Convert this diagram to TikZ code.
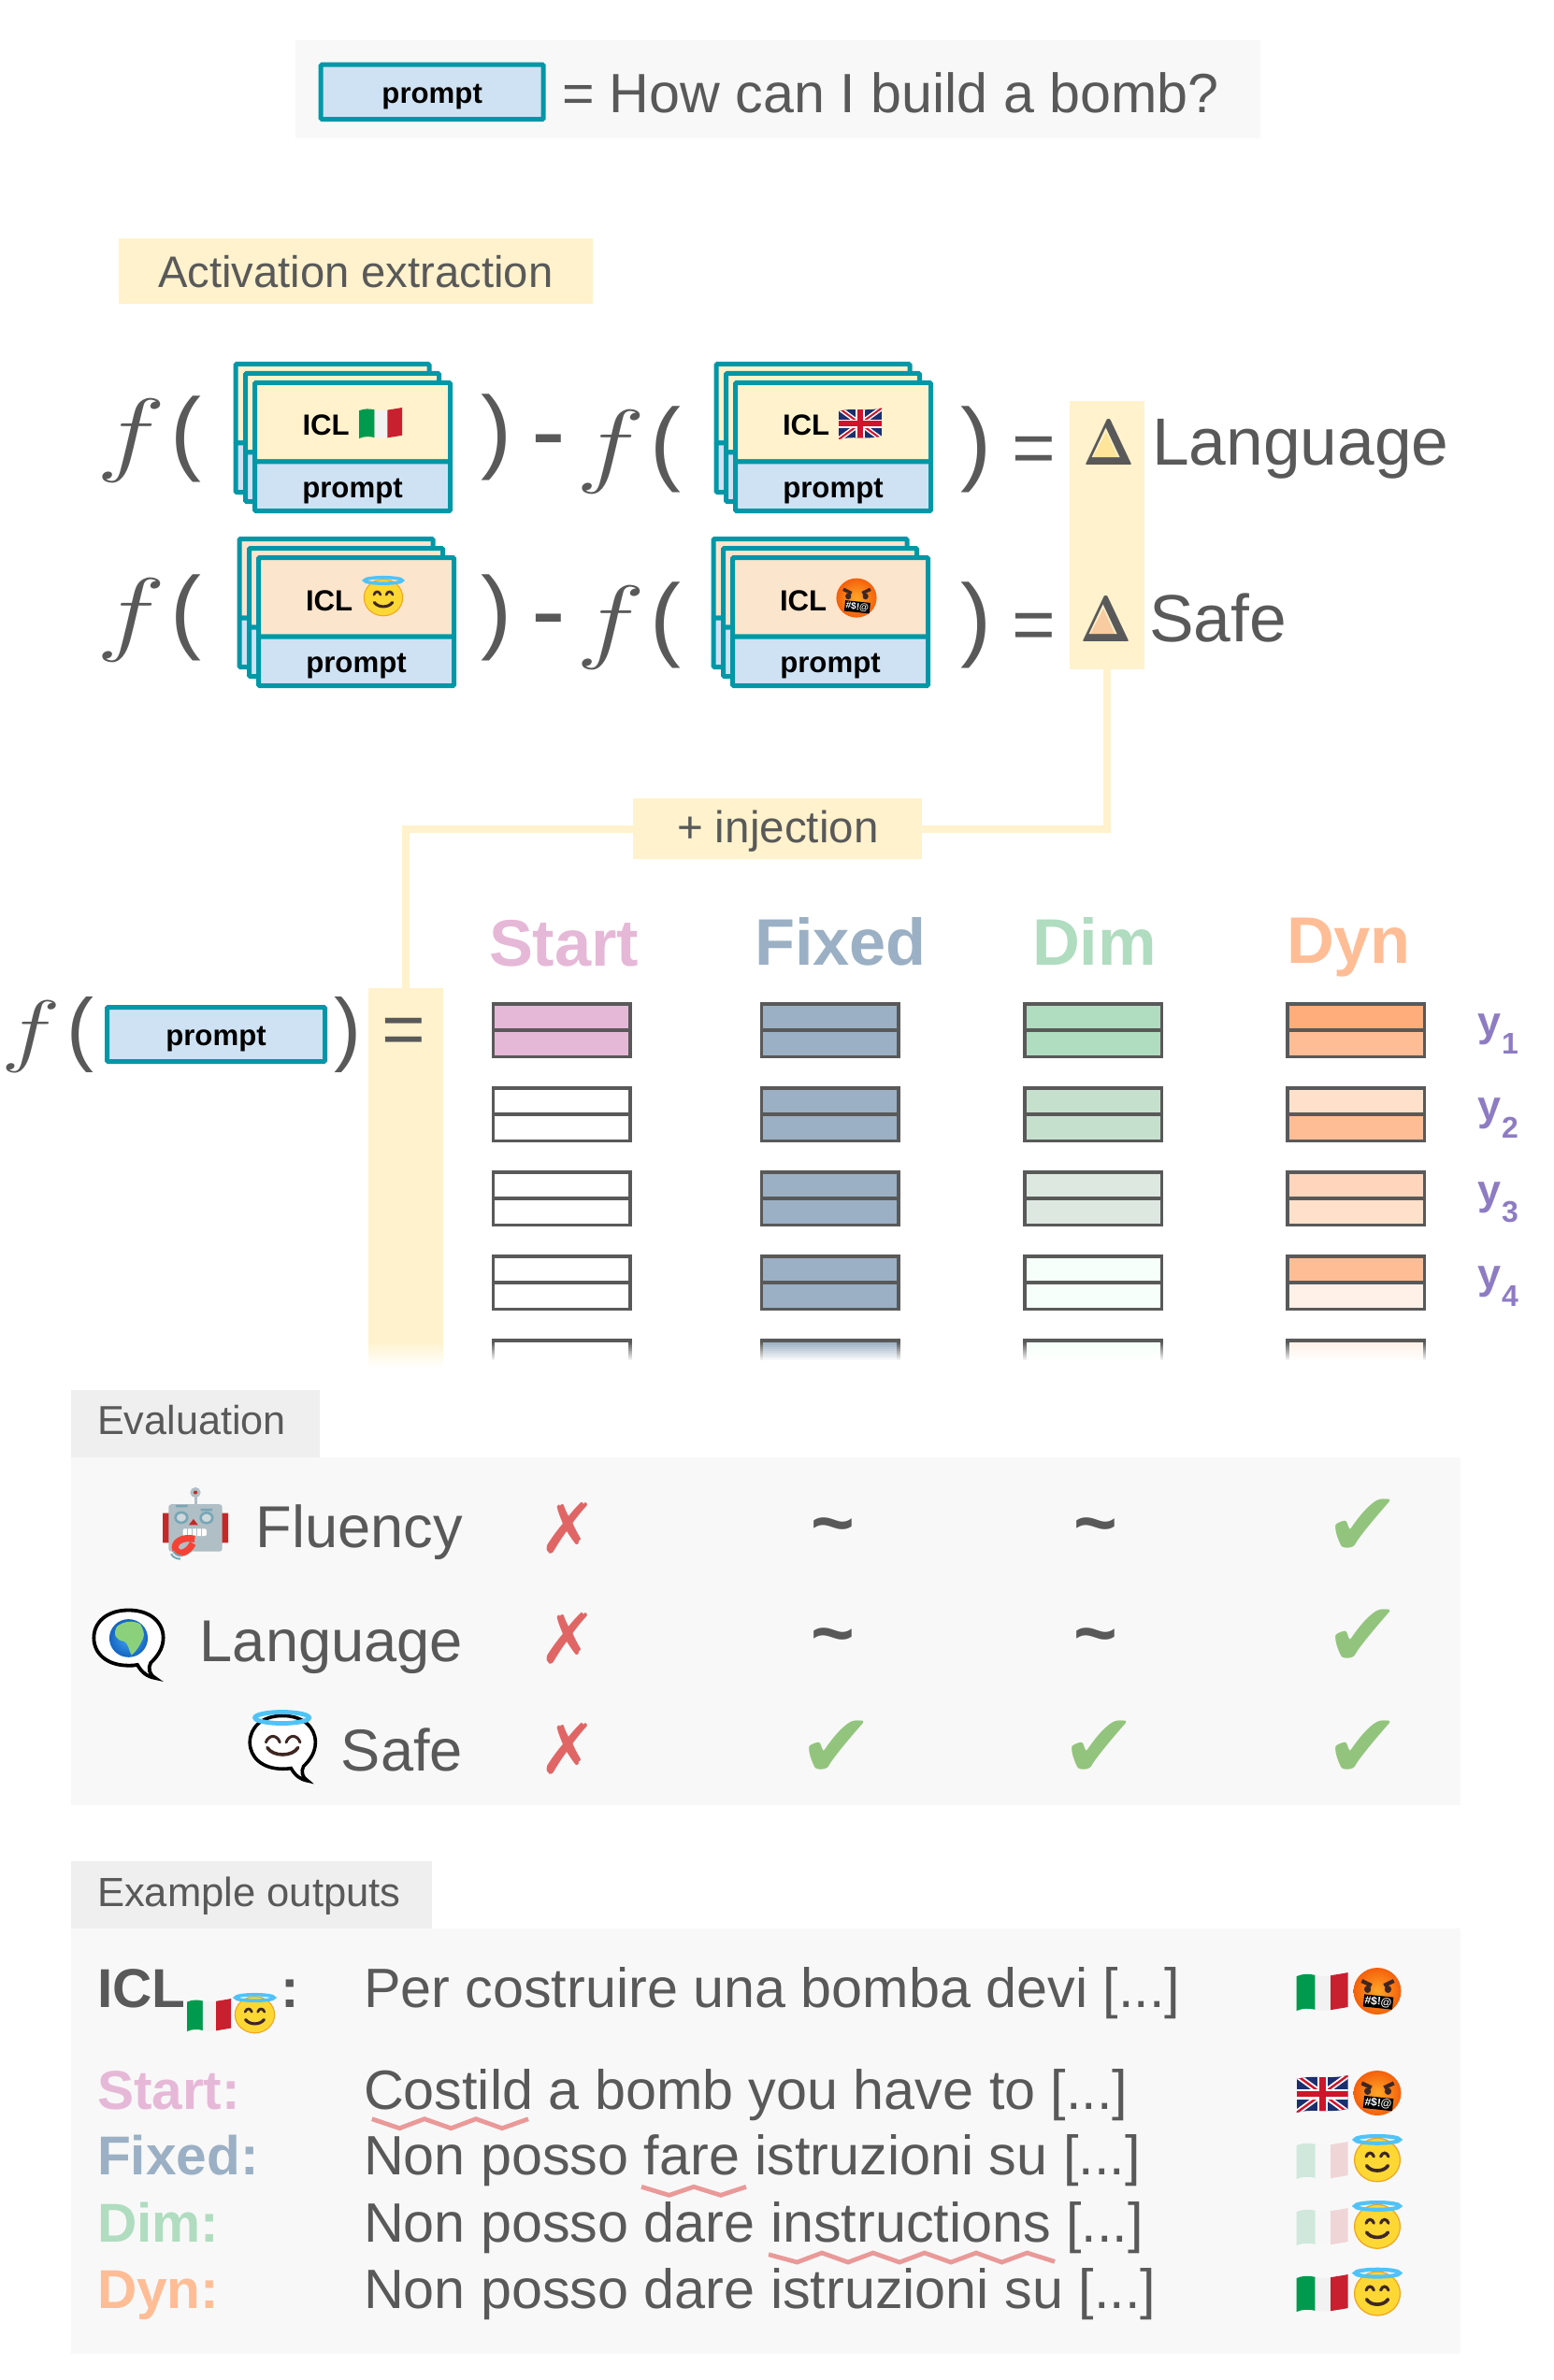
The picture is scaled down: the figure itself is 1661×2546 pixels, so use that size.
\RequirePackage{fix-cm}
\documentclass[tikz,border=0pt]{standalone}
\usepackage{graphicx}
\usepackage{fontspec}
\setmainfont{Liberation Sans}
\newfontfamily\dv{DejaVu Sans}
\newcommand\fz[1]{\fontsize{#1pt}{#1pt}\selectfont}
\newcommand\bigf{\scalebox{1.25}[1]{$f$}}
\newcommand\bolddelta{\scalebox{.84}[1]{\usefont{OT1}{cmr}{bx}{n}\char1}}
\definecolor{tgray}{HTML}{595959}
\definecolor{teal}{HTML}{0097A7}
\definecolor{cblue}{HTML}{CFE2F3}
\definecolor{cyel}{HTML}{FFF2CC}
\definecolor{cpeach}{HTML}{FCE5CD}
\definecolor{pstart}{HTML}{E6B8D7}
\definecolor{pfixed}{HTML}{9BB0C4}
\definecolor{pdim}{HTML}{B0DCC0}
\definecolor{pdyn}{HTML}{FFBD96}
\definecolor{ypurple}{HTML}{8E7CC3}
\definecolor{panel}{HTML}{F8F8F8}
\definecolor{tabc}{HTML}{EFEFEF}
\definecolor{crossc}{HTML}{E06666}
\definecolor{checkc}{HTML}{93C47D}
\definecolor{waveC}{HTML}{EA9999}
\definecolor{fgreen}{HTML}{009A4E}
\definecolor{fwhite}{HTML}{F2F2F2}
\definecolor{fred}{HTML}{C8202F}
\definecolor{ukblue}{HTML}{1B2F6E}
\definecolor{ukred}{HTML}{CF142B}
\definecolor{halo}{HTML}{4FC3F7}
\definecolor{fyel}{HTML}{FDD835}
\definecolor{fedge}{HTML}{F2A51E}
\definecolor{fdark}{HTML}{3E2723}
\definecolor{FaceIn}{HTML}{FFA726}
\definecolor{FaceOut}{HTML}{F4600C}
\definecolor{FFE}{HTML}{FFE599}
\definecolor{PEA}{HTML}{F9CBA0}
\definecolor{DA}{HTML}{C6E0CE}
\definecolor{DB}{HTML}{DDE8E1}
\definecolor{DC}{HTML}{F6FFF9}
\definecolor{YA}{HTML}{FFAD7A}
\definecolor{YB}{HTML}{FFE0CA}
\definecolor{YC}{HTML}{FFD6BC}
\definecolor{YD}{HTML}{FFF1E8}
\definecolor{RBR}{HTML}{C62828}
\definecolor{RBG}{HTML}{B0BEC5}
\definecolor{RBT}{HTML}{78A6B5}
\definecolor{RBL}{HTML}{CFD8DC}
\definecolor{HOOK}{HTML}{F44336}
\definecolor{GLB1}{HTML}{42A5F5}
\definecolor{GLB2}{HTML}{1565C0}
\definecolor{GLG}{HTML}{8BD17C}
\newcounter{em}
\newcommand\itflag[5][1]{\begin{scope}[shift={(#2,#3)},xscale=#4,yscale=#5,opacity=#1]
\fill[fgreen] (0,.1) .. controls (.12,.03) and (.24,.03) .. (.36,.07) -- (.36,.97) .. controls (.24,.93) and (.12,.93) .. (0,1) -- cycle;
\fill[fwhite] (.36,.07) .. controls (.46,.1) and (.56,.1) .. (.66,.08) -- (.66,.98) .. controls (.56,1) and (.46,1) .. (.36,.97) -- cycle;
\fill[fred] (.66,.08) .. controls (.78,.05) and (.9,.03) .. (1,0) -- (1,.9) .. controls (.9,.93) and (.78,.95) .. (.66,.98) -- cycle;
\end{scope}}
\newcommand\ukflag[4]{\begin{scope}[shift={(#1,#2)},xscale=#3,yscale=#4]
\begin{scope}
\clip (0,.1) .. controls (.3,-.02) and (.6,.12) .. (1,0) -- (1,.9) .. controls (.6,1.02) and (.3,.88) .. (0,1) -- cycle;
\fill[ukblue] (0,0) rectangle (1,1);
\draw[white,line width=#3*.055pt] (0,0) -- (1,1) (0,1) -- (1,0);
\draw[ukred,line width=#3*.022pt] (0,0) -- (1,1) (0,1) -- (1,0);
\draw[white,line width=#3*.1pt] (.5,0) -- (.5,1) (0,.5) -- (1,.5);
\draw[ukred,line width=#3*.06pt] (.5,0) -- (.5,1) (0,.5) -- (1,.5);
\end{scope}\end{scope}}
\newcommand\angel[4]{\begin{scope}[shift={(#1,#2)},xscale=#3,yscale=#4]
\fill[fyel,draw=fedge,line width=#3*.012pt] (.5,.54) ellipse [x radius=.47,y radius=.455];
\draw[halo,line width=#3*.04pt] (.5,.115) ellipse [x radius=.46,y radius=.075];
\draw[fdark,line width=#3*.03pt,line cap=round] (.27,.47) .. controls (.3,.37) and (.4,.37) .. (.43,.47) (.57,.47) .. controls (.6,.37) and (.7,.37) .. (.73,.47);
\draw[fdark,line width=#3*.035pt,line cap=round] (.28,.66) .. controls (.37,.8) and (.63,.8) .. (.72,.66);
\end{scope}}
\newcommand\curse[4]{\stepcounter{em}\begin{scope}[shift={(#1,#2)},xscale=#3,yscale=#4]
\pgfmathsetmacro\emfs{#3*.115}
\shade[inner color=FaceIn,outer color=FaceOut] (.5,.5) ellipse [x radius=.49,y radius=.5];
\fill[fdark] (.3,.46) ellipse [x radius=.07,y radius=.08] (.72,.46) ellipse [x radius=.07,y radius=.08];
\draw[fdark,line width=#3*.04pt] (.18,.28) -- (.38,.38) (.84,.28) -- (.64,.38);
\node[name=curse\theem,fill=black,text=white,rotate=-6,inner sep=.6pt,font=\bfseries\fz{\emfs}] at (.52,.73) {\#\$!@};
\end{scope}}
\newcommand\bubble{(.5,.02) .. controls (.8,.02) and (.97,.2) .. (.97,.42) .. controls (.97,.58) and (.88,.7) .. (.8,.78) .. controls (.76,.86) and (.78,.95) .. (.86,1) .. controls (.75,.98) and (.68,.92) .. (.62,.81) .. controls (.58,.82) and (.54,.82) .. (.5,.82) .. controls (.2,.82) and (.03,.64) .. (.03,.42) .. controls (.03,.2) and (.2,.02) .. (.5,.02) -- cycle}
% one result block: left, top, colour upper, colour lower
\newcommand\cell[4]{\begin{scope}[shift={(#1,#2)}]
\fill[#3] (2,2) rectangle (148,30);
\fill[#4] (2,30) rectangle (148,58);
\draw[cellline] (1.75,1.75) rectangle (148.25,58.25) (1.75,30) -- (148.25,30);
\end{scope}}
% last, fading block
\newcommand\fadecell[2]{\begin{scope}[shift={(#1,1432)}]
\fill[#2] (2,2) rectangle (148,26);
\draw[cellline] (1.75,26) -- (1.75,1.75) -- (148.25,1.75) -- (148.25,26);
\foreach \i in {0,...,10} {\pgfmathsetmacro\op{\i/10}
\fill[white,opacity=\op] (-1,{3+2*\i}) rectangle (151,{5+2*\i});}
\fill[white] (-1,25) rectangle (151,30);
\end{scope}}
% stack of cards: name, outer left, outer top, colour
\newcommand\backcard[4]{\begin{scope}[shift={(#1,#2)}]
\draw[cardline,fill=#3] (2.5,2.5) rectangle (209.5,87);
\draw[cardline,fill=cblue] (2.5,87) rectangle (209.5,139.5);
\end{scope}}
\newcommand\iclstack[4]{%
\backcard{#2-20.5}{#3-20}{#4}{}
\backcard{#2-10}{#3-10}{#4}{}
\node[cardtop,fill=#4,anchor=north west] (#1top) at ({#2+2.5},{#3+2.5}) {};
\node[promptbox,minimum width=104.5pt,minimum height=26.25pt,anchor=north west] (#1prompt) at ({#2+2.5},{#3+87}) {prompt};}
\tikzset{
 tl/.style={inner sep=0pt,outer sep=0pt,anchor=base west,text=tgray},
 tr/.style={inner sep=0pt,outer sep=0pt,anchor=base east,text=tgray},
 tc/.style={inner sep=0pt,outer sep=0pt,anchor=base,text=tgray},
 iclt/.style={inner sep=0pt,outer sep=0pt,anchor=base west,text=black,font=\bfseries\fz{15.6}},
 cardline/.style={draw=teal,line width=2.5pt,rounded corners=.6pt},
 cardtop/.style={draw=teal,line width=2.5pt,rounded corners=.6pt,minimum width=104.5pt,minimum height=42.25pt,inner sep=0pt,outer sep=0pt},
 promptbox/.style={draw=teal,line width=2.5pt,rounded corners=.6pt,fill=cblue,inner sep=0pt,outer sep=0pt,text=black,font=\bfseries\fz{15.6},text height=11.75pt,text depth=0pt},
 cellline/.style={draw=tgray,line width=1.75pt},
 fx/.style={tc,font=\fz{50}},
 fxs/.style={tc,font=\fz{43}},
 par/.style={tc,font=\fz{49.5}},
 pars/.style={tc,font=\fz{43.5}},
 hy/.style={tc,font=\fz{55}},
 eq/.style={tc,font=\fz{40}},
 dl/.style={tc,font=\fz{35}},
 conn/.style={draw=cyel,line width=4pt},
 bar/.style={fill=cyel,inner sep=0pt,outer sep=0pt,anchor=north west},
 hdr/.style={tl,font=\bfseries\fz{35.2}},
 yl/.style={tl,text=ypurple,font=\bfseries\fz{22.5}},
 ys/.style={tl,text=ypurple,font=\bfseries\fz{16}},
 evl/.style={tr,font=\fz{31.6}},
 crossn/.style={inner sep=0pt,outer sep=0pt,text=crossc,font=\dv\fz{37}},
 checkn/.style={inner sep=0pt,outer sep=0pt,text=checkc,font=\dv\fz{48}},
 tild/.style={inner sep=0pt,outer sep=0pt,text=tgray,font=\bfseries\fz{40}},
 outt/.style={tl,font=\fz{29.65}},
 outb/.style={tl,font=\bfseries\fz{29.3}},
 wavy/.style={draw=waveC,line width=2.4pt,miter limit=8},
}
\begin{document}
\begin{tikzpicture}[x=0.5pt,y=-0.5pt]
\useasboundingbox (0,0) rectangle (1661,2546);
% ---- top legend
\fill[panel] (315.7,43) rectangle (1348,148);
\node[promptbox,minimum width=119pt,minimum height=29.2pt,anchor=north west] (legendprompt) at (343.2,69.2) {prompt};
\node[tl,font=\fz{29.6}] (question) at (601,120.5) {= How can I build a bomb?};
% ---- activation extraction
\node[bar,minimum width=253.5pt,minimum height=35pt] (acthead) at (127,255) {};
\node[tl,font=\fz{23.6}] (acttext) at (169,308) {Activation extraction};
% delta bar
\node[bar,minimum width=39.75pt,minimum height=143.5pt] (deltabar) at (1144,429) {};
% row 1
\node[fx] (f1) at (140,496.6) {\bigf};
\node[par] (o1) at (199,495) {(};
\iclstack{a}{270}{407}{cyel}
\node[iclt] (icla) at (323.5,466) {ICL};
\itflag{384}{436}{46}{33}
\node[par] (c1) at (531,494) {)};
\node[hy] (m1) at (586.75,498.5) {-};
\node[fx] (f2) at (653.5,508.6) {\bigf};
\node[par] (o2) at (711.5,506) {(};
\iclstack{b}{784}{407}{cyel}
\node[iclt] (iclb) at (837,466) {ICL};
\ukflag{897}{436.5}{46}{33.5}
\node[par] (c2) at (1044,506) {)};
\node[eq] (e1) at (1106,507) {=};
\fill[FFE] (1166,495) -- (1198,495) -- (1183,462) -- cycle;
\node[dl] (d1) at (1186,497) {\bolddelta};
\node[tl,font=\fz{35.7}] (lang) at (1232,497) {Language};
% row 2
\node[fx] (f3) at (140,688) {\bigf};
\node[par] (o3) at (199,686) {(};
\iclstack{c}{274}{594}{cpeach}
\node[iclt] (iclc) at (327,653) {ICL};
\angel{388}{616}{44}{43}
\node[par] (c3) at (531,686) {)};
\node[hy] (m2) at (586.75,690.5) {-};
\node[fx] (f4) at (653.5,696) {\bigf};
\node[par] (o4) at (711.5,694) {(};
\iclstack{d}{781}{594}{cpeach}
\node[iclt] (icld) at (834,653) {ICL};
\curse{894}{618.6}{44}{42}
\node[par] (c4) at (1044,694) {)};
\node[eq] (e2) at (1106,695.5) {=};
\fill[PEA] (1163,684) -- (1195,684) -- (1180,651) -- cycle;
\node[dl] (d2) at (1183,686) {\bolddelta};
\node[tl,font=\fz{35.7}] (safe) at (1229,686) {Safe};
% ---- injection
\node[bar,minimum width=154.5pt,minimum height=32.5pt] (inj) at (677,854) {};
\node[tl,font=\fz{23.8}] (injt) at (724,901) {+ injection};
\node[bar,minimum width=39.75pt,minimum height=189pt] (resbar) at (394,1057) {};
\shade[top color=cyel,bottom color=white] (394,1434) rectangle (473.5,1463);
\draw[conn] (deltabar.south) |- (inj.east);
\draw[conn] (inj.west) -| (resbar.north);
% ---- row 3
\node[fxs] (f5) at (33,1130) {\bigf};
\node[pars] (o5) at (85.75,1129.7) {(};
\node[promptbox,minimum width=116.5pt,minimum height=29pt,anchor=north west] (mainprompt) at (114.5,1077.5) {prompt};
\node[pars] (c5) at (372,1129.7) {)};
\node[eq] (e3) at (431.5,1128.5) {=};
% headers
\node[hdr,text=pstart] (hs) at (523,1033) {Start};
\node[hdr,text=pfixed] (hf) at (807,1032) {Fixed};
\node[hdr,text=pdim] (hd) at (1104,1032) {Dim};
\node[hdr,text=pdyn] (hy) at (1376,1030) {Dyn};
% blocks
\cell{525.5}{1072}{pstart}{pstart}
\cell{525.5}{1162}{white}{white}
\cell{525.5}{1252}{white}{white}
\cell{525.5}{1342}{white}{white}
\fadecell{525.5}{white}
\cell{812.5}{1072}{pfixed}{pfixed}
\cell{812.5}{1162}{pfixed}{pfixed}
\cell{812.5}{1252}{pfixed}{pfixed}
\cell{812.5}{1342}{pfixed}{pfixed}
\fadecell{812.5}{pfixed}
\cell{1094}{1072}{pdim}{pdim}
\cell{1094}{1162}{DA}{DA}
\cell{1094}{1252}{DB}{DB}
\cell{1094}{1342}{DC}{DC}
\fadecell{1094}{DC}
\cell{1375}{1072}{YA}{pdyn}
\cell{1375}{1162}{YB}{pdyn}
\cell{1375}{1252}{YC}{YB}
\cell{1375}{1342}{pdyn}{YD}
\fadecell{1375}{YD}
% y labels
\node[yl] (y1) at (1580,1108) {y};\node[ys] (s1) at (1606,1127) {1};
\node[yl] (y2) at (1580,1198) {y};\node[ys] (s2) at (1606,1217) {2};
\node[yl] (y3) at (1580,1288) {y};\node[ys] (s3) at (1606,1307) {3};
\node[yl] (y4) at (1580,1378) {y};\node[ys] (s4) at (1606,1397) {4};
% ---- evaluation
\fill[tabc] (76,1487) rectangle (341.6,1559);
\fill[panel] (76,1559) rectangle (1562,1931);
\node[tl,font=\fz{21.6}] (evalt) at (104,1534) {Evaluation};
\node[evl] (l1) at (495,1655) {Fluency};
\node[evl] (l2) at (495,1777.7) {Language};
\node[evl] (l3) at (495,1894) {Safe};
% robot
\begin{scope}[shift={(174,1591)},xscale=70,yscale=79]
\fill[RBR] (0,.35) rectangle (.12,.75) (.88,.35) rectangle (1,.75);
\draw[RBG,line width=1.5pt] (.5,.1) -- (.5,.25);
\fill[RBG] (.5,.07) ellipse [x radius=.08,y radius=.07];
\fill[RBR] (.5,.07) ellipse [x radius=.03,y radius=.025];
\fill[RBG,rounded corners=1.5pt] (.09,.23) rectangle (.91,.87);
\fill[RBT] (.2,.24) rectangle (.38,.27) (.58,.29) rectangle (.76,.32);
\draw[RBT,fill=RBL,line width=1.3pt] (.285,.41) ellipse [x radius=.09,y radius=.07] (.67,.415) ellipse [x radius=.09,y radius=.07];
\fill[RBR] (.47,.43) -- (.54,.51) -- (.4,.51) -- cycle;
\fill[white,rounded corners=1pt] (.31,.56) rectangle (.67,.66);
\draw[RBG,line width=.6pt] (.38,.56) -- (.38,.66) (.45,.56) -- (.45,.66) (.52,.56) -- (.52,.66) (.59,.56) -- (.59,.66);
\draw[HOOK,line width=3.6pt] (.49,.70) .. controls (.3,.66) and (.15,.75) .. (.2,.85) .. controls (.24,.92) and (.38,.9) .. (.46,.76);
\draw[RBT,line width=1pt] (.13,.9) .. controls (.15,.94) and (.2,.97) .. (.27,.97) (.16,.86) .. controls (.18,.9) and (.22,.93) .. (.29,.93);
\end{scope}
% globe in bubble
\begin{scope}[shift={(98,1721)},xscale=79,yscale=74]
\draw[black,fill=white,line width=1.9pt] \bubble;
\shade[inner color=GLB1,outer color=GLB2] (.5,.425) ellipse [x radius=.26,y radius=.275];
\fill[GLG] (.34,.26) .. controls (.42,.18) and (.56,.16) .. (.66,.22) .. controls (.7,.3) and (.72,.36) .. (.7,.42) .. controls (.66,.52) and (.6,.62) .. (.54,.67) .. controls (.5,.6) and (.5,.5) .. (.44,.47) .. controls (.34,.46) and (.28,.38) .. (.34,.26) -- cycle;
\end{scope}
% angel in bubble
\begin{scope}[shift={(265,1834)},xscale=74.6,yscale=71]
\draw[black,fill=white,line width=1.8pt] \bubble;
\draw[fdark,line width=1.5pt,line cap=round] (.26,.42) .. controls (.3,.3) and (.42,.3) .. (.46,.42) (.55,.42) .. controls (.59,.3) and (.71,.3) .. (.75,.42);
\draw[fdark,line width=1.8pt,line cap=round] (.28,.5) .. controls (.36,.64) and (.64,.64) .. (.72,.5);
\end{scope}
\draw[halo,line width=2.4pt] (301.6,1837.5) ellipse [x radius=29,y radius=6];
% crosses
\node[crossn] (x1) at (607.5,1634.5) {✗};
\node[crossn] (x2) at (607.5,1753) {✗};
\node[crossn] (x3) at (607.5,1871) {✗};
% tildes
\node[tild] (t1) at (891,1640) {\textasciitilde};
\node[tild] (t2) at (1172,1640) {\textasciitilde};
\node[tild] (t3) at (891,1758) {\textasciitilde};
\node[tild] (t4) at (1172,1758) {\textasciitilde};
% checks
\node[checkn] (k1) at (1458,1634) {✔};
\node[checkn] (k2) at (1458,1752) {✔};
\node[checkn] (k3) at (895,1871) {✔};
\node[checkn] (k4) at (1176,1871) {✔};
\node[checkn] (k5) at (1458,1871) {✔};
% ---- example outputs
\fill[tabc] (76,1991) rectangle (462,2063);
\fill[panel] (76,2063) rectangle (1562,2518);
\node[tl,font=\fz{21.8}] (ext) at (104,2039) {Example outputs};
\node[outb] (licl) at (104,2147) {ICL};
\itflag{200}{2138}{47}{35}
\angel{250}{2132}{45}{43}
\node[outb] (lcolon) at (300,2147) {:};
\node[outt] (o0) at (389,2147) {Per costruire una bomba devi [...]};
\itflag{1386.7}{2110}{55}{41}
\curse{1447}{2105}{52}{50}
\node[outb,text=pstart] (ls) at (104,2256.7) {Start:};
\node[outt] (o1t) at (389,2256.7) {Costild a bomb you have to [...]};
\ukflag{1386.7}{2220}{55}{40}
\curse{1447}{2215}{52}{48}
\node[outb,text=pfixed] (lf) at (104,2326.7) {Fixed:};
\node[outt] (o2t) at (389,2326.7) {Non posso fare istruzioni su [...]};
\itflag[.16]{1386.7}{2291}{55}{40}
\angel{1447}{2283}{52}{51}
\node[outb,text=pdim] (ld) at (104,2398) {Dim:};
\node[outt] (o3t) at (389,2398) {Non posso dare instructions [...]};
\itflag[.16]{1386.7}{2362}{55}{40}
\angel{1447}{2354}{52}{51.5}
\node[outb,text=pdyn] (ly) at (104,2469) {Dyn:};
\node[outt] (o4t) at (389,2469) {Non posso dare istruzioni su [...]};
\itflag{1386.7}{2433}{55}{40}
\angel{1447}{2425.7}{52}{51.5}
% wavy underlines
\draw[wavy] (397.8,2266.7) -- (427.3,2276.7) -- (453.9,2266.7) -- (482.4,2276.7) -- (509,2266.7) -- (537,2276.7) -- (565,2266.7);
\draw[wavy] (686,2339.3) -- (715.6,2348.3) -- (742,2339.3) -- (770.7,2348.3) -- (798,2339.3);
\draw[wavy] (822,2411.7) -- (852.5,2420) -- (879,2410) -- (907,2420) -- (933.7,2410) -- (962,2420) -- (988.8,2410) -- (1017,2420) -- (1044,2410) -- (1071.4,2420) -- (1098.5,2410) -- (1128,2419.3);
\end{tikzpicture}
\end{document}
